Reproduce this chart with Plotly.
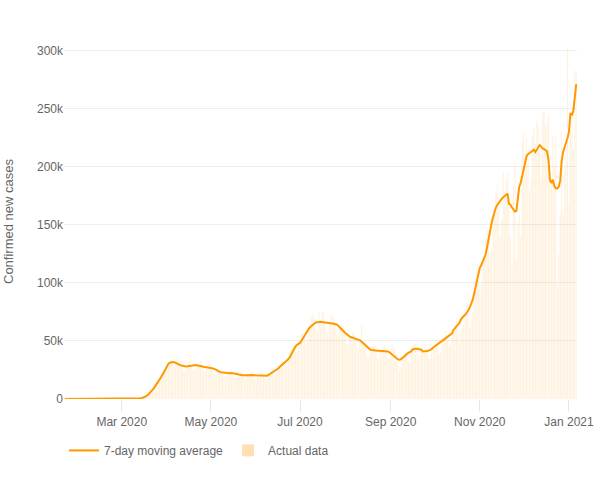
import pandas as pd
import plotly.graph_objects as go

# daily dates, 22 Jan 2020 to 6 Jan 2021
dates = pd.date_range("2020-01-22", "2021-01-06", freq="D")

# actual daily confirmed cases, one row per week (Wed..Tue)
actual = [
    1, 0, 1, 0, 3, 0, 0,
    0, 1, 1, 0, 2, 0, 0,
    1, 0, 0, 0, 0, 1, 0,
    0, 1, 0, 0, 0, 0, 0,
    0, 0, 0, 0, 0, 0, 1,
    1, 0, 2, 8, 7, 23, 19,
    33, 77, 53, 166, 116, 75, 300,
    270, 290, 450, 600, 780, 1100, 1600,
    2400, 3500, 4700, 6000, 7600, 9300, 10500,
    12500, 15500, 18000, 19500, 20500, 22500, 25500,
    27500, 31000, 33500, 34500, 29500, 28000, 31500,
    35500, 31500, 32500, 29000, 24500, 23500, 27000,
    30000, 32000, 33000, 29500, 25000, 25500, 29500,
    29500, 30500, 32500, 29000, 24000, 24000, 28000,
    34500, 29500, 30000, 27000, 22000, 21500, 24500,
    24000, 25500, 26000, 23000, 19500, 19000, 22500,
    22500, 24000, 25000, 22500, 19000, 18500, 21500,
    21500, 22500, 23500, 21000, 17500, 17500, 20500,
    21000, 22000, 23500, 21000, 17500, 17500, 21000,
    21000, 22000, 24500, 21000, 17000, 17000, 20500,
    22500, 24000, 26000, 25000, 21000, 21500, 26000,
    29500, 31500, 33500, 32000, 27500, 28500, 35500,
    39000, 44000, 48500, 47000, 41000, 42000, 49500,
    51500, 56500, 57500, 54000, 47500, 50500, 61000,
    64500, 71000, 73500, 64000, 57000, 59000, 75000,
    68000, 75000, 74500, 66000, 57500, 58000, 64500,
    73000, 72500, 70000, 64000, 55500, 54500, 62000,
    65000, 63000, 62500, 56000, 47500, 46000, 53000,
    54500, 56500, 58000, 53000, 44000, 43500, 50000,
    64000, 49000, 48500, 44500, 36500, 35500, 41500,
    44000, 45500, 47500, 42500, 35000, 34500, 40500,
    43000, 45000, 46500, 42000, 35000, 34000, 40000,
    47000, 42500, 44500, 38000, 30500, 25000, 27500,
    34500, 37000, 40000, 38000, 33000, 32000, 38000,
    45500, 47000, 48000, 44000, 36500, 37000, 43000,
    44000, 45500, 47000, 43000, 35000, 35000, 42000,
    44500, 47500, 51000, 47500, 39000, 39000, 46000,
    51000, 56500, 58500, 53500, 45500, 47000, 53000,
    59000, 64000, 70000, 58500, 48500, 59500, 61000,
    64000, 75000, 83000, 82000, 61000, 67000, 74000,
    95000, 104000, 112000, 102000, 95000, 99000, 118000,
    125000, 138000, 148000, 145000, 125000, 130000, 150000,
    160000, 178000, 184000, 170000, 140000, 155000, 196000,
    178000, 188000, 196000, 170000, 140000, 114000, 183000,
    204000, 118000, 150000, 160000, 140000, 221000, 230000,
    205000, 225000, 215000, 180000, 190000, 227000, 234000,
    220000, 240000, 235000, 215000, 190000, 247000, 249000,
    235000, 240000, 245000, 210000, 185000, 227000, 200000,
    226000, 100000, 125000, 160000, 231000, 158000, 200000,
    215000, 302000, 170000, 230000, 247000, 215000, 283000,
    283000,
]

# 7-day moving average as drawn on the chart
moving_avg = [
    1, 1, 1, 1, 1, 0, 0,
    1, 1, 1, 0, 0, 0, 0,
    0, 0, 0, 0, 0, 0, 0,
    0, 0, 0, 0, 0, 0, 0,
    0, 0, 0, 1, 1, 2, 3,
    5, 9, 15, 20, 30, 40, 55,
    70, 90, 120, 150, 190, 230, 270,
    310, 380, 470, 600, 900, 1300, 1900,
    2700, 3700, 4900, 6300, 7800, 9400, 11100,
    12900, 14800, 16800, 18900, 21200, 23700, 26300,
    28800, 30500, 31300, 31700, 31800, 31600, 31200,
    30600, 29900, 29200, 28700, 28400, 28200, 28100,
    28300, 28600, 28900, 29200, 29400, 29500, 29300,
    28900, 28500, 28200, 28000, 27800, 27600, 27400,
    27200, 27000, 26800, 26600, 26200, 25500, 24600,
    23900, 23400, 23100, 22900, 22700, 22500, 22300,
    22200, 22300, 22400, 22300, 22100, 21800, 21500,
    21200, 20800, 20500, 20400, 20500, 20600, 20600,
    20500, 20500, 20600, 20600, 20500, 20400, 20300,
    20300, 20200, 20200, 20100, 20000, 20100, 20400,
    21200, 22300, 23000, 23700, 24400, 25000, 26300,
    27600, 28600, 29600, 30500, 31800, 33100, 34500,
    36000, 38500, 41200, 43800, 45500, 46800, 47600,
    48300, 50200, 52500, 54800, 56900, 58800, 60600,
    62000, 63300, 64400, 65300, 65900, 66200, 66400,
    66500, 66400, 66300, 66100, 66000, 65900, 65800,
    65500, 65100, 64900, 64700, 64200, 63400, 62300,
    61000, 59600, 58200, 56800, 55600, 54600, 53800,
    53200, 52800, 52500, 52200, 51700, 51400, 50600,
    49500, 48300, 47000, 45600, 44300, 43300, 42600,
    42200, 41900, 41800, 41700, 41600, 41500, 41500,
    41400, 41300, 41200, 41100, 41000, 40500, 39400,
    38200, 36800, 35600, 34700, 34100, 33800, 34200,
    35300, 36600, 37800, 38800, 39700, 40300, 41000,
    42700, 43200, 43300, 43300, 43200, 43200, 42500,
    41000, 41000, 41200, 41400, 41700, 42300, 43000,
    44200, 45300, 46400, 47300, 48100, 49000, 49900,
    50800, 51900, 53300, 53900, 54700, 55500, 56600,
    59500, 61000, 62500, 64000, 65500, 68500, 70500,
    71500, 72500, 74000, 76000, 78500, 81500, 85000,
    90000, 96000, 101000, 107500, 113000, 115500, 118500,
    121500, 124500, 131000, 138500, 145000, 151000, 156500,
    161000, 165000, 167500, 169500, 171000, 172500, 174000,
    175000, 176500, 177000, 168000, 167500, 165000, 163000,
    161500, 162000, 172000, 183000, 186500, 192000, 199000,
    205000, 209500, 211000, 212000, 212500, 214000, 214800,
    212800, 215500, 217000, 218800, 217000, 216000, 215300,
    214500, 213500, 206000, 189000, 186000, 189000, 183500,
    181600, 181500, 183000, 188000, 205000, 213000, 216500,
    220500, 225000, 230000, 246500, 244500, 248500, 260000,
    271500,
]

font_family = "Liberation Sans, Arial, sans-serif"
grey = "#666666"

fig = go.Figure()
fig.add_trace(go.Scatter(
    x=dates, y=moving_avg, mode="lines", name="7-day moving average",
    line=dict(color="#FF9900", width=2),
))
# the thin daily bars look very pale on the reference, paler than the legend swatch
fig.add_trace(go.Bar(
    x=dates, y=actual, name="Actual data", showlegend=False,
    marker=dict(color="rgba(255,153,0,0.14)", line=dict(width=0)),
))
# legend entry only
fig.add_trace(go.Bar(
    x=[None], y=[None], name="Actual data",
    marker=dict(color="rgba(255,153,0,0.3)", line=dict(width=0)),
))

fig.update_layout(
    width=600, height=500,
    margin=dict(l=64, r=23, t=44, b=101),
    paper_bgcolor="white", plot_bgcolor="white",
    font=dict(family=font_family, size=12, color=grey),
    showlegend=True,
    legend=dict(orientation="h", x=0, xanchor="left", y=-0.104, yanchor="top",
                font=dict(size=12, color=grey)),
    bargap=0.3, barmode="overlay",
)
fig.update_xaxes(
    range=["2020-01-21 12:00", "2021-01-06 12:00"],
    tickformat="%b %Y", dtick="M2", tick0="2020-03-01",
    showgrid=False, zeroline=False, showline=False,
    ticks="outside", ticklen=12, tickcolor="#e8e8e8",
    automargin=False,
)
fig.update_yaxes(
    title=dict(text="Confirmed new cases", font=dict(size=13, color=grey), standoff=20),
    range=[0, 306000], dtick=50000, tickformat="~s",
    showgrid=True, gridcolor="#eeeeee", zeroline=False, showline=False,
    automargin=False,
)

# drop the page's default body margin so the 600x500 figure sits at the corner
fig.write_html("out.html", config={"displayModeBar": False},
               post_script="document.body.style.margin = '0';")
